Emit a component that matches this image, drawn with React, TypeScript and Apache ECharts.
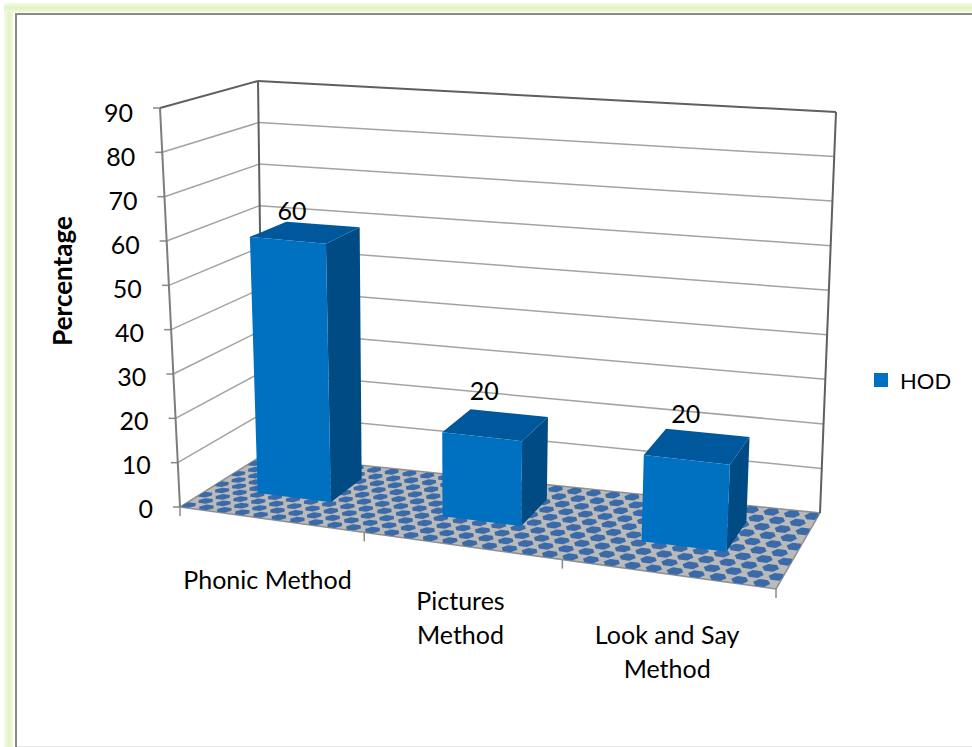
import React, { useEffect, useRef } from "react";
import * as echarts from "echarts";

const categories = ["Phonic Method", "Pictures\nMethod", "Look and Say\nMethod"];
const seriesName = "HOD";
const hodValues = [60, 20, 20];
const yTicks = [0, 10, 20, 30, 40, 50, 60, 70, 80, 90];
const FONT = "Lato";

const G = { left: 152, top: 112, width: 600, height: 396 };
type P = [number, number];
const FLOOR: P[] = [[180, 507], [776, 589], [820, 513], [263, 455]];
const ROOF: P[] = [[160, 108], [797, 161], [836, 112], [258, 81]];
const warp = (u: number) => (u * (1 - 0.105)) / (1 - 0.105 * u);
const bil = (q: P[], t: number, w: number): P => {
  const fx = q[0][0] + (q[1][0] - q[0][0]) * t, fy = q[0][1] + (q[1][1] - q[0][1]) * t;
  const bx = q[3][0] + (q[2][0] - q[3][0]) * t, by = q[3][1] + (q[2][1] - q[3][1]) * t;
  return [fx + (bx - fx) * w, fy + (by - fy) * w];
};
// u: 0..1 along categories, r: 0..1 along value axis, w: 0..1 depth
const project = (u: number, r: number, w: number): P => {
  const t = warp(u);
  const a = bil(FLOOR, t, w), b = bil(ROOF, t, w);
  return [a[0] + (b[0] - a[0]) * r, a[1] + (b[1] - a[1]) * r];
};
const uOf = (px: number) => (px - G.left) / G.width;
const rOf = (py: number) => (G.top + G.height - py) / G.height;
const GRID = "#a3a3a3";
const EDGE = "#5f5f5f";
const line = (a: P, b: P, stroke: string, lineWidth = 1.5) => ({
  type: "line",
  shape: { x1: a[0], y1: a[1], x2: b[0], y2: b[1] },
  style: { stroke, lineWidth, fill: "none" },
});
const poly = (points: P[], fill: string, stroke?: string) => ({
  type: "polygon",
  shape: { points },
  style: { fill, stroke: stroke || "none", lineWidth: stroke ? 1.5 : 0 },
});

const renderWall = (_: any, api: any) => {
  const v = api.value(1);
  const r = rOf(api.coord([0, v])[1]);
  const top = v === yTicks[yTicks.length - 1];
  const a = project(0, r, 0), b = project(0, r, 1), c = project(1, r, 1);
  const children: any[] = [
    line([a[0] - 7, a[1]], a, "#8a8a8a"),
    {
      type: "text",
      x: a[0] - 27,
      y: a[1] + 1 + 3 * r,
      style: { text: String(v), fontFamily: FONT, fontSize: 25, fill: "#000", align: "right", verticalAlign: "middle" },
    },
  ];
  if (v > 0) {
    children.push(line(a, b, top ? EDGE : GRID, top ? 2 : 1.5));
    children.push(line(b, c, top ? EDGE : GRID, top ? 2 : 1.5));
  }
  return { type: "group", children };
};

const renderFrame = () => {
  return {
    type: "group",
    children: [
      line(project(0, 0, 0), project(0, 1, 0), "#7d7d7d", 2),
      line(project(0, 0, 1), project(0, 1, 1), EDGE, 2),
      line(project(1, 0, 1), project(1, 1, 1), EDGE, 2),
    ],
  };
};

const renderFloor = () => {
  const COLS = 60, ROWS = 10;
  const du = 1 / COLS, dw = 1 / ROWS;
  const cu = (x: number) => Math.max(0, Math.min(1, x));
  const children: any[] = [
    poly([project(0, 0, 0), project(1, 0, 0), project(1, 0, 1), project(0, 0, 1)], "#bababa", "#8f8f8f"),
  ];
  for (let i = 0; i < COLS; i++) {
    for (let j = 0; j < ROWS; j++) {
      if ((i + j) % 2) continue;
      const uc = (i + 0.5) * du, wc = (j + 0.5) * dw;
      const pt = (a: number, b: number) => project(cu(uc + a * du), 0, cu(wc + b * dw));
      children.push(
        poly(
          [pt(-0.78, 0), pt(-0.4, -0.45), pt(0.4, -0.45), pt(0.78, 0), pt(0.4, 0.45), pt(-0.4, 0.45)],
          "#3a6ba8"
        )
      );
    }
  }
  return { type: "group", children };
};

const renderXTick = (_: any, api: any) => {
  const k = api.value(0);
  const a = project(k / categories.length, 0, 0);
  return line(a, [a[0], a[1] + 9], "#8a8a8a");
};

const BAR_TOP_INSET = 5;
const renderBar = (_: any, api: any) => {
  const cat = api.value(0), val = api.value(1);
  const band = api.size([1, 0])[0];
  const cx = api.coord([cat, 0])[0];
  const r = rOf(api.coord([cat, val])[1]);
  const raw0 = uOf(cx - 0.235 * band), raw1 = uOf(cx + 0.17 * band);
  const u0 = raw0 + 0.006 - 0.0091 * (0.8 - raw0), u1 = raw1 + 0.006 - 0.0091 * (0.8 - raw1);
  const w0 = 0.38, w1 = 0.79;
  const top = (u: number, w: number): P => {
    const p = project(u, r, w);
    return [p[0], p[1] + BAR_TOP_INSET];
  };
  const fl = project(u0, 0, w0), fr = project(u1, 0, w0), br = project(u1, 0, w1);
  const tfl = top(u0, w0), tfr = top(u1, w0), tbr = top(u1, w1), tbl = top(u0, w1);
  const lift = 49.5 - 0.375 * val;
  return {
    type: "group",
    children: [
      poly([fr, br, tbr, tfr], "#004b84"),
      poly([tfl, tfr, tbr, tbl], "#00589c"),
      poly([fl, fr, tfr, tfl], "#0070c0"),
      {
        type: "text",
        x: tfl[0] + 42,
        y: tfl[1] - lift,
        style: { text: String(val), fontFamily: FONT, fontSize: 25, fill: "#000", align: "center", verticalAlign: "middle" },
      },
    ],
  };
};

const renderCatLabel = (_: any, api: any) => {
  const k = api.value(0);
  const a = project((k + 0.5) / categories.length, 0, 0);
  return {
    type: "text",
    x: a[0] - [3, 1, 0][k],
    y: a[1] + 43 - (k === 1 ? 6 : 0),
    style: {
      text: categories[k],
      fontFamily: FONT,
      fontSize: 25,
      fill: "#000",
      align: "center",
      verticalAlign: "top",
      lineHeight: 34,
    },
  };
};

const stops = [{ offset: 0, color: "#f6fbec" }, { offset: 0.5, color: "#e2f3c4" }, { offset: 1, color: "#eef8dc" }];
const greenH = { type: "linear", x: 0, y: 0, x2: 1, y2: 0, colorStops: stops };
const greenV = { type: "linear", x: 0, y: 0, x2: 0, y2: 1, colorStops: stops };

export default function App() {
  const ref = useRef<HTMLDivElement>(null);
  useEffect(() => {
    document.body.style.margin = "0";
    const chart = echarts.init(ref.current!, undefined, { renderer: "svg" });
    chart.setOption({
      animation: false,
      backgroundColor: "#fff",
      grid: { left: G.left, top: G.top, width: G.width, height: G.height, containLabel: false },
      xAxis: { type: "category", data: categories, show: false },
      yAxis: {
        type: "value",
        min: 0,
        max: 90,
        interval: 10,
        show: false,
      },
      legend: {
        show: true,
        orient: "vertical",
        left: 869,
        top: 364,
        itemWidth: 14,
        itemHeight: 14,
        icon: "rect",
        data: [seriesName],
        textStyle: { fontFamily: FONT, fontSize: 22, color: "#000", padding: [0, 0, 0, 7] },
      },
      graphic: [
        { type: "rect", shape: { x: 4, y: 3, width: 9, height: 744 }, style: { fill: greenH } },
        { type: "rect", shape: { x: 4, y: 3, width: 968, height: 9 }, style: { fill: greenV } },
        { type: "rect", shape: { x: 15, y: 13, width: 2, height: 734 }, style: { fill: "#8a8a8a" } },
        { type: "rect", shape: { x: 15, y: 13, width: 957, height: 2 }, style: { fill: "#8a8a8a" } },
        { type: "rect", shape: { x: 17, y: 746, width: 955, height: 1 }, style: { fill: "#e6e6e6" } },
        {
          type: "text",
          x: 62,
          y: 281,
          rotation: Math.PI / 2,
          style: { text: "Percentage", fontFamily: FONT, fontSize: 26, fontWeight: "bold", fill: "#000", align: "center", verticalAlign: "middle" },
        },
      ],
      series: [
        { type: "custom", name: "wall", renderItem: renderWall, data: yTicks.map((v) => [0, v]), silent: true, z: 2 },
        { type: "custom", name: "floor", renderItem: renderFloor, data: [[0, 0]], silent: true, z: 3 },
        { type: "custom", name: "frame", renderItem: renderFrame, data: [[0, 0]], silent: true, z: 3 },
        { type: "custom", name: "xticks", renderItem: renderXTick, data: [0, 1, 2, 3].map((k) => [k, 0]), silent: true, z: 3 },
        {
          type: "custom",
          name: seriesName,
          renderItem: renderBar,
          data: hodValues.map((v, i) => [i, v]),
          itemStyle: { color: "#0070c0" },
          z: 4,
        },
        { type: "custom", name: "catlabels", renderItem: renderCatLabel, data: categories.map((_, i) => [i, 0]), silent: true, z: 4 },
      ],
    });
    return () => chart.dispose();
  }, []);
  return <div ref={ref} style={{ width: 972, height: 747 }} />;
}
